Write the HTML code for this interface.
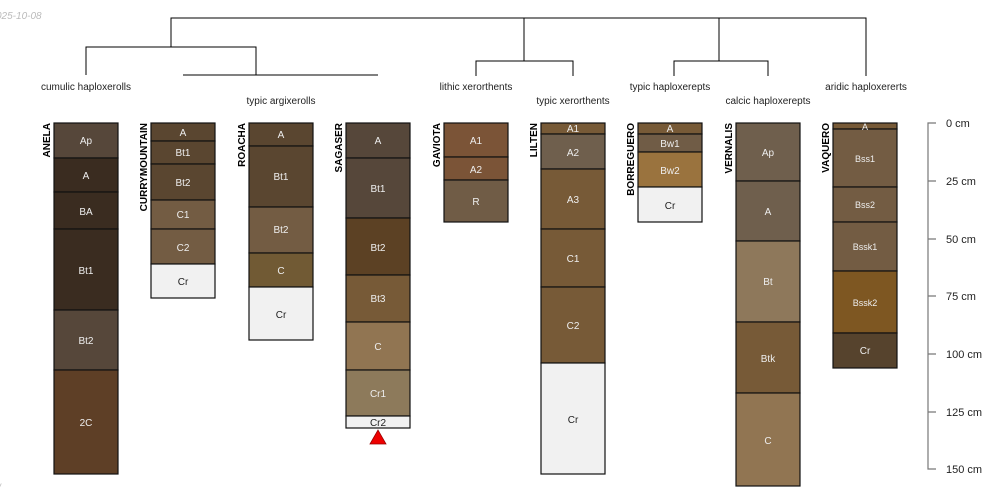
<!DOCTYPE html>
<html><head><meta charset="utf-8"><style>body{margin:0;background:#fff}svg{display:block}</style></head>
<body>
<svg width="1000" height="500" xmlns="http://www.w3.org/2000/svg" font-family="Liberation Sans, sans-serif">
<text x="-4" y="19" font-size="10" fill="#bbb" font-style="italic">025-10-08</text>
<text x="-2" y="491" font-size="10" fill="#bbb" font-style="italic">/</text>
<g stroke="#000" stroke-width="1" fill="none">
<path d="M171,47V18H866V76"/>
<path d="M86,75V47H256V75"/>
<path d="M183,75H378"/>
<path d="M524,18V61M476,76V61H573V76"/>
<path d="M719,18V61M674,76V61H768V76"/>
</g>
<g font-size="10" fill="#222" text-anchor="middle">
<text x="86" y="90">cumulic haploxerolls</text>
<text x="281" y="104">typic argixerolls</text>
<text x="476" y="90">lithic xerorthents</text>
<text x="573" y="104">typic xerorthents</text>
<text x="670" y="90">typic haploxerepts</text>
<text x="768" y="104">calcic haploxerepts</text>
<text x="866" y="90">aridic haploxererts</text>
</g>
<g font-size="10" font-weight="bold" text-anchor="end" fill="#000">
<text transform="translate(50,123) rotate(-90)">ANELA</text>
<text transform="translate(147,123) rotate(-90)">CURRYMOUNTAIN</text>
<text transform="translate(245,123) rotate(-90)">ROACHA</text>
<text transform="translate(342,123) rotate(-90)">SAGASER</text>
<text transform="translate(440,123) rotate(-90)">GAVIOTA</text>
<text transform="translate(537,123) rotate(-90)">LILTEN</text>
<text transform="translate(634,123) rotate(-90)">BORREGUERO</text>
<text transform="translate(732,123) rotate(-90)">VERNALIS</text>
<text transform="translate(829,123) rotate(-90)">VAQUERO</text>
</g>
<g stroke="#111" stroke-width="1.2" font-size="10" text-anchor="middle">
<!-- ANELA -->
<rect x="54" y="123" width="64" height="35" fill="#56473a"/>
<rect x="54" y="158" width="64" height="34" fill="#3a2c20"/>
<rect x="54" y="192" width="64" height="37" fill="#3a2c20"/>
<rect x="54" y="229" width="64" height="81" fill="#3a2c20"/>
<rect x="54" y="310" width="64" height="60" fill="#56473a"/>
<rect x="54" y="370" width="64" height="104" fill="#5e3f26"/>
<!-- CURRY -->
<rect x="151" y="123" width="64" height="18" fill="#5a4630"/>
<rect x="151" y="141" width="64" height="23" fill="#5a4630"/>
<rect x="151" y="164" width="64" height="36" fill="#5a4630"/>
<rect x="151" y="200" width="64" height="29" fill="#735c43"/>
<rect x="151" y="229" width="64" height="35" fill="#735c43"/>
<rect x="151" y="264" width="64" height="34" fill="#f1f1f1"/>
<!-- ROACHA -->
<rect x="249" y="123" width="64" height="23" fill="#5a4630"/>
<rect x="249" y="146" width="64" height="61" fill="#5a4630"/>
<rect x="249" y="207" width="64" height="46" fill="#735c43"/>
<rect x="249" y="253" width="64" height="34" fill="#715a34"/>
<rect x="249" y="287" width="64" height="53" fill="#f1f1f1"/>
<!-- SAGASER -->
<rect x="346" y="123" width="64" height="35" fill="#56473a"/>
<rect x="346" y="158" width="64" height="60" fill="#56473a"/>
<rect x="346" y="218" width="64" height="57" fill="#5c4124"/>
<rect x="346" y="275" width="64" height="47" fill="#775a37"/>
<rect x="346" y="322" width="64" height="48" fill="#917552"/>
<rect x="346" y="370" width="64" height="46" fill="#8d7a5b"/>
<rect x="346" y="416" width="64" height="12" fill="#f1f1f1"/>
<!-- GAVIOTA -->
<rect x="444" y="123" width="64" height="34" fill="#7b5437"/>
<rect x="444" y="157" width="64" height="23" fill="#7b5437"/>
<rect x="444" y="180" width="64" height="42" fill="#705c46"/>
<!-- LILTEN -->
<rect x="541" y="123" width="64" height="11" fill="#775a37"/>
<rect x="541" y="134" width="64" height="35" fill="#6f5f4d"/>
<rect x="541" y="169" width="64" height="60" fill="#775a37"/>
<rect x="541" y="229" width="64" height="58" fill="#775a37"/>
<rect x="541" y="287" width="64" height="76" fill="#775a37"/>
<rect x="541" y="363" width="64" height="111" fill="#f1f1f1"/>
<!-- BORREGUERO -->
<rect x="638" y="123" width="64" height="11" fill="#775a37"/>
<rect x="638" y="134" width="64" height="18" fill="#705c46"/>
<rect x="638" y="152" width="64" height="35" fill="#9a733e"/>
<rect x="638" y="187" width="64" height="35" fill="#f1f1f1"/>
<!-- VERNALIS -->
<rect x="736" y="123" width="64" height="58" fill="#6f5f4d"/>
<rect x="736" y="181" width="64" height="60" fill="#6f5f4d"/>
<rect x="736" y="241" width="64" height="81" fill="#8e785b"/>
<rect x="736" y="322" width="64" height="71" fill="#775a37"/>
<rect x="736" y="393" width="64" height="93" fill="#917552"/>
<!-- VAQUERO -->
<rect x="833" y="123" width="64" height="6" fill="#775a37"/>
<rect x="833" y="129" width="64" height="58" fill="#735c43"/>
<rect x="833" y="187" width="64" height="35" fill="#735c43"/>
<rect x="833" y="222" width="64" height="49" fill="#735c43"/>
<rect x="833" y="271" width="64" height="62" fill="#7e5722"/>
<rect x="833" y="333" width="64" height="35" fill="#56432d"/>
</g>
<g font-size="10" text-anchor="middle" fill="#eee">
<text x="86" y="144">Ap</text><text x="86" y="179">A</text><text x="86" y="215">BA</text><text x="86" y="274">Bt1</text><text x="86" y="344">Bt2</text><text x="86" y="426">2C</text>
<text x="183" y="136">A</text><text x="183" y="156">Bt1</text><text x="183" y="186">Bt2</text><text x="183" y="218">C1</text><text x="183" y="251">C2</text><text x="183" y="285" fill="#222">Cr</text>
<text x="281" y="138">A</text><text x="281" y="180">Bt1</text><text x="281" y="233">Bt2</text><text x="281" y="274">C</text><text x="281" y="318" fill="#222">Cr</text>
<text x="378" y="144">A</text><text x="378" y="192">Bt1</text><text x="378" y="251">Bt2</text><text x="378" y="302">Bt3</text><text x="378" y="350">C</text><text x="378" y="397">Cr1</text><text x="378" y="426" fill="#222">Cr2</text>
<text x="476" y="144">A1</text><text x="476" y="173">A2</text><text x="476" y="205">R</text>
<text x="573" y="132">A1</text><text x="573" y="156">A2</text><text x="573" y="203">A3</text><text x="573" y="262">C1</text><text x="573" y="329">C2</text><text x="573" y="423" fill="#222">Cr</text>
<text x="670" y="132">A</text><text x="670" y="147">Bw1</text><text x="670" y="174">Bw2</text><text x="670" y="209" fill="#222">Cr</text>
<text x="768" y="156">Ap</text><text x="768" y="215">A</text><text x="768" y="285">Bt</text><text x="768" y="362">Btk</text><text x="768" y="444">C</text>
<g font-size="9"><text x="865" y="130">A</text><text x="865" y="162">Bss1</text><text x="865" y="208">Bss2</text><text x="865" y="250">Bssk1</text><text x="865" y="306">Bssk2</text></g><text x="865" y="354">Cr</text>
</g>
<path d="M370,444L378,430L386,444Z" fill="#e00" stroke="#900" stroke-width="0.8"/>
<g stroke="#777" stroke-width="1.2" fill="none"><path d="M936,123H928V469H936M928,181H936M928,239H936M928,296H936M928,354H936M928,412H936"/></g>
<g font-size="11" fill="#222">
<text x="946" y="127">0 cm</text><text x="946" y="185">25 cm</text><text x="946" y="243">50 cm</text><text x="946" y="300">75 cm</text><text x="946" y="358">100 cm</text><text x="946" y="416">125 cm</text><text x="946" y="473">150 cm</text>
</g>
</svg>
</body></html>
